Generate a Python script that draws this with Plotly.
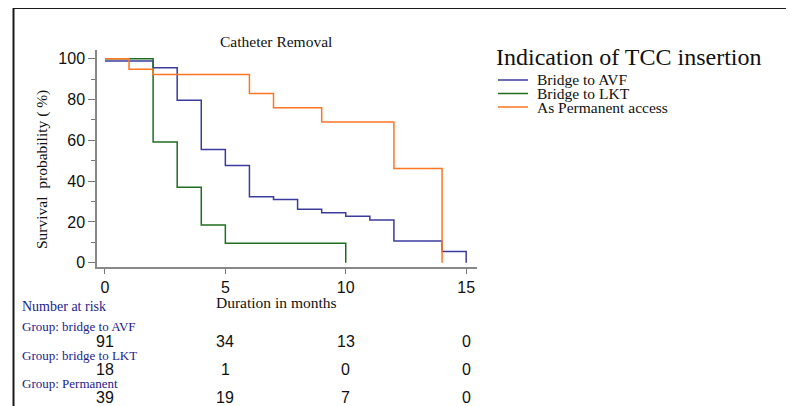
import plotly.graph_objects as go

# ---------------- data ----------------
groups = ["Bridge to AVF", "Bridge to LKT", "As Permanent access"]
colors = ["#3b3b9e", "#1f6f1f", "#ff7522"]

avf_t = [0, 2, 3, 4, 5, 6, 7, 8, 9, 10, 11, 12, 14, 15]
avf_s = [98.9, 95.6, 79.7, 55.5, 47.7, 32.3, 31.0, 26.2, 24.5, 22.8, 20.9, 10.7, 5.5, 0]

lkt_t = [0, 2, 3, 4, 5, 10]
lkt_s = [100, 59.2, 37.0, 18.5, 9.5, 0]

perm_t = [0, 1, 2, 6, 7, 9, 12, 14]
perm_s = [100, 94.9, 92.3, 83.0, 76.0, 69.0, 46.2, 0]

risk_times = [0, 5, 10, 15]
risk_labels = ["Group: bridge to AVF", "Group: bridge to LKT", "Group: Permanent"]
risk_avf = [91, 34, 13, 0]
risk_lkt = [18, 1, 0, 0]
risk_perm = [39, 19, 7, 0]

x_ticks = [0, 5, 10, 15]
y_ticks = [0, 20, 40, 60, 80, 100]

# ---------------- layout geometry ----------------
# page has a default 8px body margin, so the figure is drawn offset by 8px
O = 8
W, H = 794 - O, 406 - O
# plot area edges in page pixels
L, R, T, B = 97, 477, 50, 267


def px(x):
    return (x - L) / (R - L)


def py(y):
    return (B - y) / (B - T)


SERIF = "Liberation Serif, Times New Roman, serif"
SANS = "Liberation Sans, Arial, sans-serif"
NAVY = "#1c1c8c"

fig = go.Figure()
series = [(avf_t, avf_s), (lkt_t, lkt_s), (perm_t, perm_s)]
for (t, s), name, c in zip(series, groups, colors):
    fig.add_trace(go.Scatter(x=t, y=s, mode="lines", line=dict(shape="hv", color=c, width=1.5),
                             name=name, showlegend=False, hoverinfo="x+y+name"))

annotations = []
shapes = []


def txt(text, x, y, size, family=SERIF, color="#111", xanchor="left", **kw):
    annotations.append(dict(text=text, x=px(x), y=py(y), xref="paper", yref="paper",
                            showarrow=False, xanchor=xanchor, yanchor="middle",
                            font=dict(family=family, size=size, color=color), **kw))


txt("Catheter Removal", 276, 41, 15.5, xanchor="center")
txt("Survival  probability ( %)", 42, 170, 15.5, xanchor="center", textangle=-90)
txt("Duration in months", 276.5, 302, 15.5, xanchor="center")

# Custom legend
txt("Indication of TCC insertion", 494, 57, 24)
leg_y = [80, 93.5, 107]
for name, c, yy in zip(groups, colors, leg_y):
    shapes.append(dict(type="line", xref="paper", yref="paper", x0=px(498), x1=px(528),
                       y0=py(yy), y1=py(yy), line=dict(color=c, width=1.5)))
    txt(name, 535, yy, 15.5)

# Number at risk table
txt("Number at risk", 20, 306, 14, color=NAVY)
label_y = [326, 355, 383]
num_y = [341.5, 369.5, 397.5]
for lab, vals, ly, ny in zip(risk_labels, [risk_avf, risk_lkt, risk_perm], label_y, num_y):
    txt(lab, 20, ly, 13, color=NAVY)
    for t, v in zip(risk_times, vals):
        annotations.append(dict(text=str(v), x=t, y=py(ny), xref="x", yref="paper",
                                showarrow=False, xanchor="center", yanchor="middle",
                                font=dict(family=SANS, size=16, color="#111")))

# Frame lines (top and left)
shapes.append(dict(type="line", xref="paper", yref="paper", x0=px(13), x1=px(810),
                   y0=py(8), y1=py(8), line=dict(color="#1a1a1a", width=2)))
shapes.append(dict(type="line", xref="paper", yref="paper", x0=px(13.5), x1=px(13.5),
                   y0=py(7), y1=py(420), line=dict(color="#1a1a1a", width=2)))

fig.update_layout(
    width=W, height=H,
    margin=dict(l=L - O, r=794 - R, t=T - O, b=406 - B, pad=0),
    paper_bgcolor="white", plot_bgcolor="white",
    showlegend=False,
    annotations=annotations,
    shapes=shapes,
    xaxis=dict(range=[-0.33, 15.45], tickvals=x_ticks, ticks="outside", ticklen=5, tickwidth=1,
               tickcolor="#777", showline=True, linecolor="#888", linewidth=1.5, showgrid=False,
               zeroline=False, tickfont=dict(family=SANS, size=16, color="#111")),
    yaxis=dict(range=[-2.1, 104.3], tickvals=y_ticks, ticks="outside", ticklen=7, tickwidth=1,
               tickcolor="#777", showline=True, linecolor="#888", linewidth=1.5, showgrid=False,
               zeroline=False, tickfont=dict(family=SANS, size=16, color="#111"),
               minor=dict(tickvals=[10, 30, 50, 70, 90], ticks="outside", ticklen=4,
                          tickcolor="#777", tickwidth=1, showgrid=False)),
)

fig.write_html("out.html")
